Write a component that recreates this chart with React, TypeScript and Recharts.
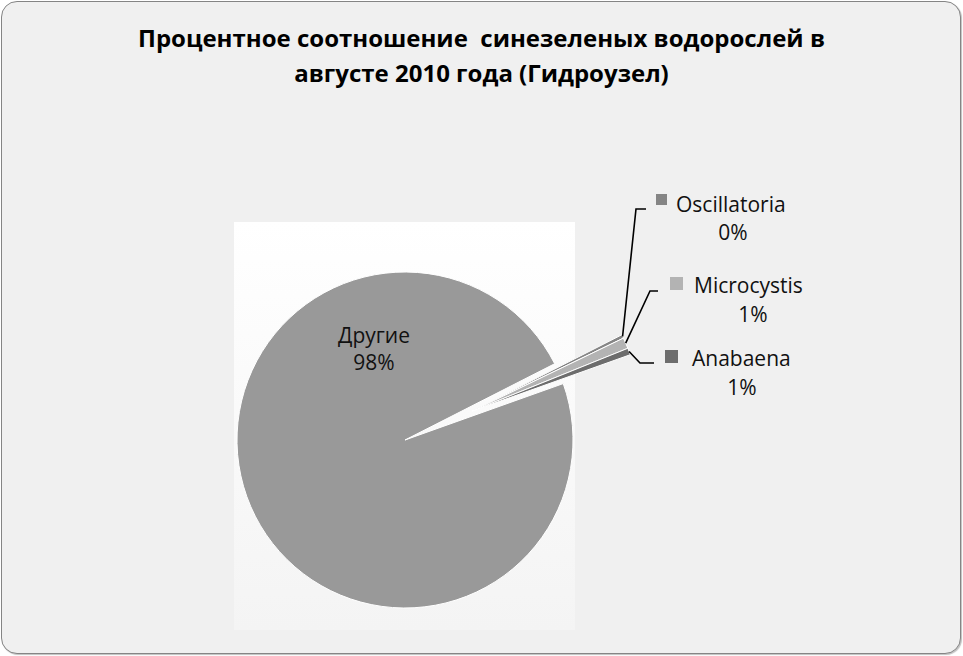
import React from 'react';
import { PieChart, Pie, Cell } from 'recharts';

const categories = ['Oscillatoria', 'Microcystis', 'Anabaena', 'Другие'];
const shares = [0.35, 1.05, 0.65, 97.95];
const sliceColors = ['#858585', '#b3b3b3', '#6d6d6d', '#999999'];
const titleLines = ['Процентное соотношение  синезеленых водорослей в', 'августе 2010 года (Гидроузел)'];

const data = categories.map((name, i) => ({ name, value: shares[i] }));
const total = shares.reduce((a, b) => a + b, 0);
const pct = (v: number) => `${Math.round((v / total) * 100)}%`;

// layout
const W = 963;
const H = 656;
const CX = 405;
const CY = 440;
const R = 168;
const START = 27;
const EXPLODE = 73;
const EXPLODED = [0, 1, 2];
const RAD = Math.PI / 180;
const explodedShare = EXPLODED.reduce((a, i) => a + shares[i], 0);
const explodedMid = START - ((explodedShare / total) * 360) / 2;
const ECX = CX + EXPLODE * Math.cos(explodedMid * RAD);
const ECY = CY - EXPLODE * Math.sin(explodedMid * RAD);

const FONT = '"Open Sans", sans-serif';

const callouts = [
  { elbow: [636, 209], end: [646, 209], sq: [656, 194, 11], nameX: 676, nameY: 212, pctX: 733, pctY: 240 },
  { elbow: [650, 291], end: [658, 291], sq: [670, 277, 13], nameX: 694, nameY: 293, pctX: 753, pctY: 322 },
  { elbow: [640, 363], end: [654, 363], sq: [665, 350, 13], nameX: 692, nameY: 366, pctX: 742, pctY: 395 },
];
const mainLabel = { x: 374, y1: 343, y2: 370 };

const renderExplodedLabel = (props: any) => {
  const { index, cx, cy, midAngle, outerRadius } = props;
  if (!EXPLODED.includes(index)) return <g />;
  const c = callouts[index];
  const sx = cx + outerRadius * Math.cos(-midAngle * RAD);
  const sy = cy + outerRadius * Math.sin(-midAngle * RAD);
  return (
    <g>
      <polyline
        points={`${sx},${sy} ${c.elbow[0]},${c.elbow[1]} ${c.end[0]},${c.end[1]}`}
        fill="none"
        stroke="#000"
        strokeWidth={1.6}
      />
      <rect x={c.sq[0]} y={c.sq[1]} width={c.sq[2]} height={c.sq[2]} fill={sliceColors[index]} />
      <text x={c.nameX} y={c.nameY} fontFamily={FONT} fontSize={21} fill="#111" textAnchor="start">
        {categories[index]}
      </text>
      <text x={c.pctX} y={c.pctY} fontFamily={FONT} fontSize={21} fill="#111" textAnchor="middle">
        {pct(shares[index])}
      </text>
    </g>
  );
};

const renderMainLabel = (props: any) => {
  const { index } = props;
  if (EXPLODED.includes(index)) return <g />;
  return (
    <g>
      <text x={mainLabel.x} y={mainLabel.y1} fontFamily={FONT} fontSize={21} fill="#111" textAnchor="middle">
        {categories[index]}
      </text>
      <text x={mainLabel.x} y={mainLabel.y2} fontFamily={FONT} fontSize={21} fill="#111" textAnchor="middle">
        {pct(shares[index])}
      </text>
    </g>
  );
};

export default function App() {
  return (
    <div style={{ position: 'absolute', left: 0, top: 0, width: W, height: H, fontFamily: FONT }}>
      <div
        style={{
          position: 'absolute',
          left: 1,
          top: 1,
          width: 960,
          height: 653,
          boxSizing: 'border-box',
          border: '1.5px solid #858585',
          borderRadius: 16,
          background: '#f0f0f0',
          boxShadow: '1px 1px 1px rgba(0,0,0,0.25)',
        }}
      />
      <div
        style={{
          position: 'absolute',
          left: 234,
          top: 222,
          width: 341,
          height: 408,
          background: 'linear-gradient(#ffffff, #f4f4f4)',
        }}
      />
      <div
        style={{
          position: 'absolute',
          left: 0,
          top: 20,
          width: W,
          textAlign: 'center',
          fontWeight: 700,
          fontSize: 24,
          lineHeight: '35px',
          color: '#000',
          whiteSpace: 'pre',
        }}
      >
        {titleLines.map((t, i) => (
          <div key={i}>{t}</div>
        ))}
      </div>
      <div style={{ position: 'absolute', left: 0, top: 0 }}>
        <PieChart width={W} height={H} margin={{ top: 0, right: 0, bottom: 0, left: 0 }}>
          <Pie
            data={data}
            dataKey="value"
            nameKey="name"
            cx={CX}
            cy={CY}
            outerRadius={R}
            startAngle={START}
            endAngle={START - 360}
            isAnimationActive={false}
            label={renderMainLabel}
            labelLine={false}
          >
            {data.map((d, i) => (
              <Cell
                key={d.name}
                fill={EXPLODED.includes(i) ? 'none' : sliceColors[i]}
                stroke={EXPLODED.includes(i) ? 'none' : '#ffffff'}
                strokeWidth={1}
              />
            ))}
          </Pie>
          <Pie
            data={data}
            dataKey="value"
            nameKey="name"
            cx={ECX}
            cy={ECY}
            outerRadius={R}
            startAngle={START}
            endAngle={START - 360}
            isAnimationActive={false}
            label={renderExplodedLabel}
            labelLine={false}
          >
            {data.map((d, i) => (
              <Cell
                key={d.name}
                fill={EXPLODED.includes(i) ? sliceColors[i] : 'none'}
                stroke={EXPLODED.includes(i) ? '#ffffff' : 'none'}
                strokeWidth={1}
              />
            ))}
          </Pie>
        </PieChart>
      </div>
    </div>
  );
}
